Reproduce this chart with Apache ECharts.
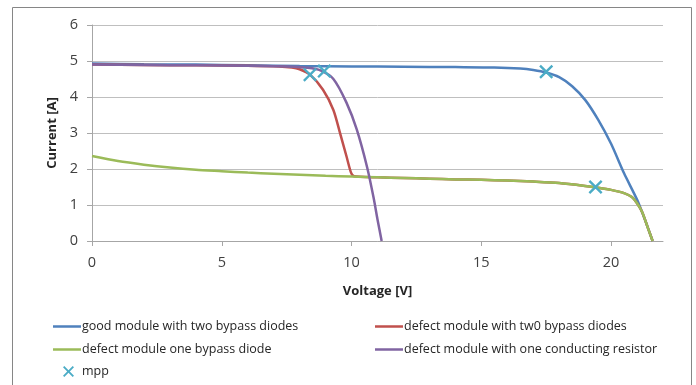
<!DOCTYPE html>
<html>
<head>
<meta charset="utf-8">
<script src="https://cdn.jsdelivr.net/npm/echarts@6/dist/echarts.min.js"></script>
<style>
html,body{margin:0;padding:0;background:#fff;}
#c{width:696px;height:385px;}
</style>
</head>
<body>
<div id="c"></div>
<script>
// Series names
const seriesNames = [
  'good module with two bypass diodes',
  'defect module with tw0 bypass diodes',
  'defect module one bypass diode',
  'defect module with one conducting resistor',
  'mpp'
];
// [Voltage V, Current A]
const goodModule = [[0,4.93],[2,4.91],[4,4.9],[6,4.88],[8,4.86],[10,4.85],[12,4.84],[14,4.83],[15.5,4.82],[16.5,4.79],[17,4.75],[17.5,4.68],[18,4.55],[18.5,4.3],[19,3.92],[19.5,3.37],[20,2.7],[20.5,1.88],[21,1.15],[21.3,0.6],[21.6,0]];
const defectTwoDiodes = [[0,4.9],[2,4.89],[4,4.88],[6,4.87],[7.2,4.85],[7.7,4.82],[8.0,4.77],[8.4,4.62],[8.9,4.2],[9.3,3.64],[9.56,2.99],[9.81,2.34],[9.98,1.9],[10.1,1.8],[11,1.77],[12,1.75],[13,1.73],[14,1.71],[15,1.7],[16,1.68],[17,1.65],[18,1.61],[19,1.53],[19.5,1.48],[20,1.42],[20.5,1.33],[20.8,1.22],[21,1.05],[21.2,0.8],[21.4,0.4],[21.6,0]];
const defectOneDiode = [[0,2.36],[1,2.22],[2,2.12],[3,2.04],[4,1.98],[5,1.94],[6,1.9],[7,1.87],[8,1.84],[9,1.81],[10,1.79],[11,1.77],[12,1.75],[13,1.73],[14,1.71],[15,1.7],[16,1.68],[17,1.65],[18,1.61],[19,1.53],[19.5,1.48],[20,1.42],[20.5,1.33],[20.8,1.22],[21,1.05],[21.2,0.8],[21.4,0.4],[21.6,0]];
const defectResistor = [[0,4.9],[2,4.89],[4,4.88],[6,4.87],[7.5,4.85],[8.3,4.81],[8.8,4.74],[9.3,4.5],[9.8,3.85],[10.2,3.1],[10.6,2.05],[10.85,1.2],[11.0,0.6],[11.16,0]];
const mppPoints = [[17.5,4.7],[8.4,4.62],[8.95,4.72],[19.4,1.5]];
const xTicks = [0,5,10,15,20];
const yTicks = [0,1,2,3,4,5,6];

const colors = ['#4F81BD','#C0504D','#9BBB59','#8064A2','#4BACC6'];
const crossPath = 'path://M0,1.2L1.2,0L5,3.8L8.8,0L10,1.2L6.2,5L10,8.8L8.8,10L5,6.2L1.2,10L0,8.8L3.8,5Z';
const font = '"Open Sans", "Liberation Sans", sans-serif';

const chart = echarts.init(document.getElementById('c'), null, {renderer:'canvas'});

function lineSeries(name, data, color, z) {
  return {
    name: name, type: 'line', data: data, symbol: 'none', smooth: 0.25,
    lineStyle: {color: color, width: 2.5}, itemStyle: {color: color}, z: z
  };
}
function legendAt(name, left, top, color, isCross) {
  return {
    data: [{name: name, icon: isCross ? crossPath : 'rect', itemStyle: {color: color, borderWidth: 0}}],
    left: left, top: top,
    itemWidth: isCross ? 11 : 28, itemHeight: isCross ? 11 : 2.5, itemGap: 0,
    textStyle: {fontFamily: font, fontSize: 12.5, color: '#262626', padding: [0,0,0, isCross ? 3 : -4]},
    selectedMode: false
  };
}

chart.setOption({
  animation: false,
  color: colors,
  graphic: [{
    type: 'rect', shape: {x: 12.5, y: 7.5, width: 679, height: 400},
    style: {fill: 'none', stroke: '#868686', lineWidth: 1}, silent: true
  }],
  grid: {left: 92, right: 33, top: 25, bottom: 144},
  xAxis: {
    type: 'value', min: 0, max: 22, interval: 5,
    name: 'Voltage [V]', nameLocation: 'middle', nameGap: 44,
    nameTextStyle: {fontFamily: font, fontSize: 13, fontWeight: 'bold', color: '#262626'},
    axisLine: {show: true, lineStyle: {color: '#A6A6A6', width: 1}},
    axisTick: {show: true, inside: false, length: 5, lineStyle: {color: '#A6A6A6'}},
    axisLabel: {fontFamily: font, fontSize: 14.5, color: '#404040', margin: 14, showMaxLabel: false,
      formatter: v => xTicks.indexOf(v) >= 0 ? String(v) : ''},
    splitLine: {show: false}
  },
  yAxis: {
    type: 'value', min: 0, max: 6, interval: 1,
    name: 'Current [A]', nameLocation: 'middle', nameGap: 30, nameRotate: 90,
    nameTextStyle: {fontFamily: font, fontSize: 13, fontWeight: 'bold', color: '#262626'},
    axisLine: {show: true, lineStyle: {color: '#A6A6A6', width: 1}},
    axisTick: {show: true, inside: false, length: 5, lineStyle: {color: '#A6A6A6'}},
    axisLabel: {fontFamily: font, fontSize: 14.5, color: '#404040', margin: 14,
      formatter: v => yTicks.indexOf(v) >= 0 ? String(v) : ''},
    splitLine: {show: true, lineStyle: {color: '#BFBFBF', width: 1}}
  },
  legend: [
    legendAt(seriesNames[0], 48, 315, colors[0]),
    legendAt(seriesNames[1], 370, 315, colors[1]),
    legendAt(seriesNames[2], 48, 338, colors[2]),
    legendAt(seriesNames[3], 370, 338, colors[3]),
    legendAt(seriesNames[4], 58, 360, colors[4], true)
  ],
  series: [
    lineSeries(seriesNames[0], goodModule, colors[0], 2),
    lineSeries(seriesNames[1], defectTwoDiodes, colors[1], 3),
    lineSeries(seriesNames[2], defectOneDiode, colors[2], 4),
    lineSeries(seriesNames[3], defectResistor, colors[3], 5),
    {
      name: seriesNames[4], type: 'scatter', data: mppPoints,
      symbol: crossPath, symbolSize: 14,
      itemStyle: {color: colors[4], opacity: 1}, z: 10
    }
  ]
});
</script>
</body>
</html>
